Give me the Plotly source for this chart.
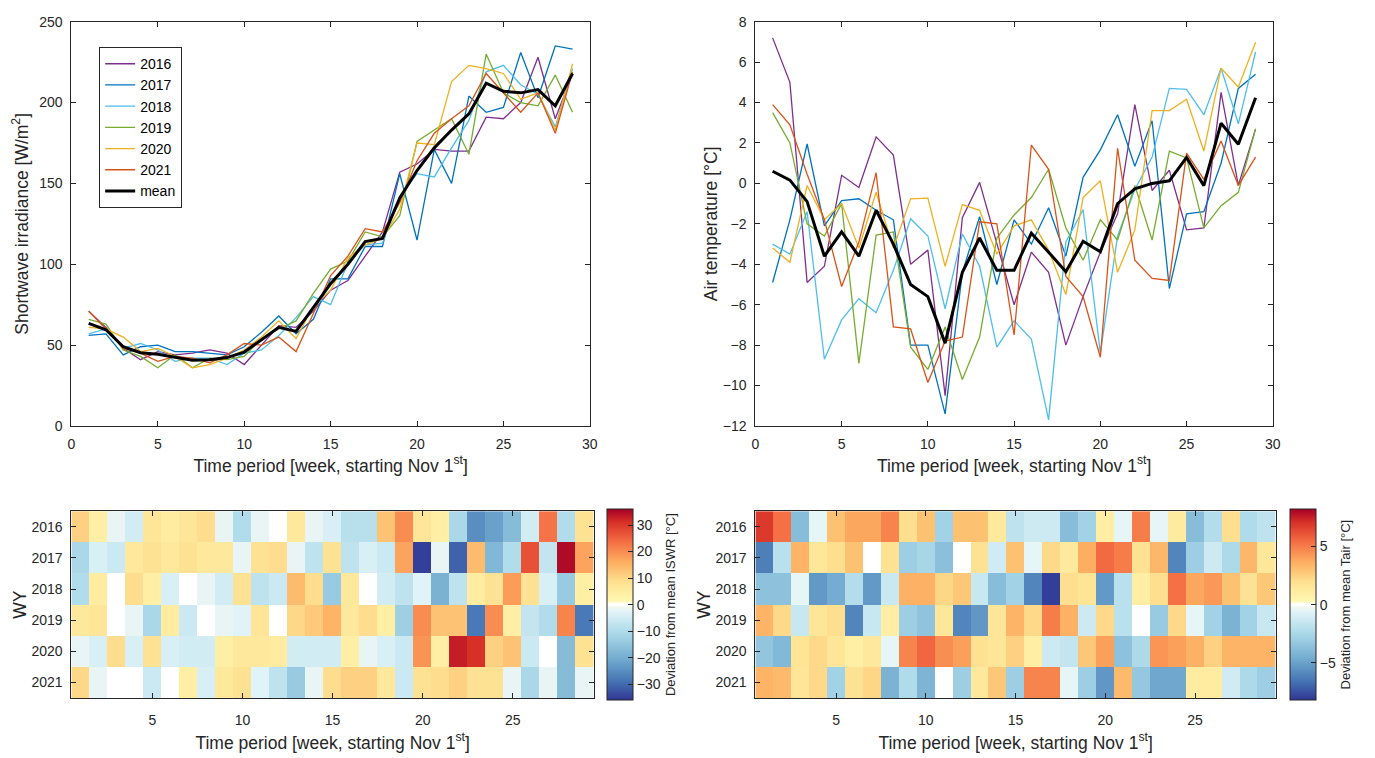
import plotly.graph_objects as go

weeks = list(range(1, 30))
years = [2016, 2017, 2018, 2019, 2020, 2021]
year_colors = ["#7E2F8E", "#0072BD", "#4DBEEE", "#77AC30", "#EDB120", "#D95319"]

# Shortwave irradiance [W/m2]
iswr_2016 = [71, 61, 48, 41, 46, 44, 45, 47, 45, 38, 50, 62, 61, 71, 84, 90, 105, 120, 157, 162, 171, 170, 170, 191, 190, 200, 228, 190, 218]
iswr_2017 = [56, 57, 44, 49, 50, 46, 46, 45, 44, 49, 58, 68, 57, 66, 91, 91, 111, 111, 156, 115, 171, 150, 204, 194, 197, 231, 203, 235, 233]
iswr_2018 = [57, 60, 48, 51, 47, 40, 42, 42, 38, 45, 47, 56, 67, 80, 75, 101, 112, 113, 142, 156, 154, 172, 189, 219, 223, 211, 205, 185, 221]
iswr_2019 = [66, 63, 47, 43, 36, 44, 36, 42, 41, 43, 54, 60, 65, 82, 97, 102, 120, 117, 130, 176, 183, 190, 168, 230, 206, 200, 198, 217, 194]
iswr_2020 = [61, 60, 55, 46, 48, 43, 36, 38, 42, 47, 55, 65, 54, 74, 84, 104, 112, 116, 134, 175, 174, 213, 223, 221, 218, 202, 206, 183, 224]
iswr_2021 = [71, 60, 48, 45, 40, 43, 42, 39, 44, 51, 50, 55, 46, 70, 93, 105, 122, 120, 138, 164, 181, 190, 198, 218, 206, 194, 206, 181, 219]
iswr_mean = [63.5, 59.5, 49, 45.3, 44.3, 42.3, 40.7, 41, 42.3, 45.7, 53.4, 61, 58.5, 73, 88, 100, 114, 116, 141, 158, 172, 183, 193, 212, 207, 206, 208, 198, 218]

# Air temperature [degC]
tair_2016 = [7.2, 5.0, -4.9, -4.1, 0.4, -0.2, 2.3, 1.4, -4.0, -3.3, -10.5, -1.7, 0.05, -3.0, -6.0, -3.4, -4.4, -8.0, -5.6, -3.4, -1.5, 3.9, -0.35, 0.65, -2.3, -2.2, 4.5, -0.1, 2.7]
tair_2017 = [-4.9, -1.8, 1.95, -2.1, -0.85, -0.76, -1.33, -1.8, -8.0, -8.0, -11.4, -4.4, -1.65, -5.0, -1.8, -3.0, -1.2, -3.6, 0.3, 1.66, 3.4, 0.85, 3.1, -5.2, -1.5, -1.4, 1.0, 4.7, 5.4]
tair_2018 = [-3.0, -3.5, -1.4, -8.7, -6.75, -5.7, -6.4, -4.3, -1.75, -2.6, -6.2, -2.5, -4.1, -8.1, -6.8, -7.7, -11.7, -2.9, -1.3, -8.4, -2.6, -0.3, 1.3, 4.7, 4.65, 3.4, 5.7, 2.95, 6.5]
tair_2019 = [3.5, 2.0, -2.0, -2.6, -1.0, -8.9, -2.56, -2.4, -8.1, -9.2, -7.1, -9.7, -7.6, -2.7, -1.56, -0.7, 0.7, -2.2, -3.8, -1.8, -2.8, -0.1, -2.8, 1.6, 1.26, -2.2, -1.1, -0.44, 2.7]
tair_2020 = [-3.2, -3.9, -0.1, -1.8, -1.0, -3.2, -0.44, -3.2, -0.76, -0.73, -4.1, -1.05, -1.33, -3.5, -2.1, -1.8, -3.3, -5.5, -0.7, 0.13, -4.4, -2.3, 3.6, 3.6, 4.16, 1.6, 5.7, 4.77, 6.98]
tair_2021 = [3.9, 2.9, 0.45, -1.8, -5.1, -2.9, 0.53, -7.1, -7.2, -9.85, -7.8, -7.6, -1.9, -2.0, -7.5, 1.9, 0.7, -4.6, -5.6, -8.6, 1.74, -3.8, -4.7, -4.8, 1.5, 0.2, 2.1, -0.1, 1.3]
tair_mean = [0.6, 0.16, -0.9, -3.6, -2.4, -3.6, -1.33, -3.0, -5.0, -5.6, -7.9, -4.4, -2.7, -4.3, -4.3, -2.46, -3.4, -4.37, -2.86, -3.38, -1.0, -0.27, 0.0, 0.13, 1.29, -0.11, 2.98, 1.94, 4.24]

# Deviation from mean ISWR (heatmap rows, WY 2016..2021)
dev_iswr_2016 = [11, 4, -2, -5, 7, 5, 7, 9, -2, -10, -2, 0, 6, -2, -4, -9, -9, 13, 20, 7, 4, -11, -25, -22, -17, -5, 23, -10, 8]
dev_iswr_2017 = [-11, -4, -6, 6, 8, 6, 8, 6, 6, -2, 8, 9, -2, -8, 8, -8, -4, -6, 17, -35, -2, -31, 14, -18, -10, 27, -7, 35, 17]
dev_iswr_2018 = [-10, 5, 0, 9, 4, -4, 0, -2, -5, 8, -8, -6, 14, 9, -14, 6, 0, -5, -8, -3, -19, -8, 5, 8, 18, 8, -4, -14, 4]
dev_iswr_2019 = [6, 7, 0, -2, -11, 5, -6, 0, -2, -3, 7, 0, 10, 12, 15, 6, 9, 4, -13, 20, 13, 13, -28, 20, 4, -7, -10, 21, -28]
dev_iswr_2020 = [-2, -4, 9, -4, 8, -4, -5, -5, 4, 6, 6, 5, -5, -5, -5, 4, -2, -4, -6, 19, 4, 33, 31, 11, 13, -6, 0, -17, 8]
dev_iswr_2021 = [10, -2, 0, 0, -6, 0, 4, -4, 6, 8, -3, -8, -14, -2, 9, 11, 11, 6, -6, 8, 9, 11, 8, 8, -2, -11, -2, -17, -2]

# Deviation from mean Tair (heatmap rows, WY 2016..2021)
dev_tair_2016 = [6.8, 5.3, -3.8, -0.5, 3.0, 3.8, 3.8, 4.8, 2.0, 3.0, -2.8, 3.0, 3.0, 1.3, -1.8, -1.3, -1.3, -3.8, -2.8, 1.0, -0.5, 5.0, -0.5, 1.2, -3.8, -2.2, 2.0, -2.3, -1.8]
dev_tair_2017 = [-6.2, -2.0, 3.4, 1.5, 2.0, 3.0, 0.0, 1.8, -3.0, -2.6, -3.7, 0.0, 1.8, -1.2, 3.0, -0.5, 2.2, 1.3, 3.6, 5.5, 5.0, 1.8, 3.3, -6.0, -3.0, -1.3, -2.4, 3.3, 1.5]
dev_tair_2018 = [-3.6, -3.6, -0.5, -5.3, -4.6, -2.2, -5.3, -1.4, 3.5, 3.5, 2.3, 2.8, -1.5, -3.8, -2.8, -6.0, -8.0, 2.0, 1.7, -5.3, -2.0, 1.0, 2.0, 5.3, 3.8, 4.2, 3.0, 1.8, 2.8]
dev_tair_2019 = [3.4, 2.2, -1.5, 1.6, 2.0, -6.0, -1.5, 1.0, -3.0, -3.5, 1.5, -6.0, -5.4, 1.6, 3.4, 2.2, 5.0, 3.5, -1.3, 2.2, -2.0, 0.0, -3.2, 2.2, -0.5, -2.8, -4.3, -2.8, -1.5]
dev_tair_2020 = [-3.4, -4.0, 1.7, 2.2, 1.6, 0.9, 1.4, -0.5, 4.8, 5.6, 4.5, 4.0, 1.9, 1.6, 2.5, 1.0, -1.3, -1.6, 2.8, 4.0, -3.6, -2.4, 4.3, 4.0, 3.5, 2.5, 3.4, 3.4, 3.4]
dev_tair_2021 = [3.4, 3.2, 1.6, 2.2, -2.8, 1.8, 2.3, -4.3, -2.3, -4.2, 0.0, -3.0, 1.4, 2.8, -3.0, 4.8, 4.8, -0.5, -3.0, -5.4, 3.2, -3.3, -4.8, -4.8, 1.1, 1.1, -1.2, -2.4, -3.0]

iswr_series = [iswr_2016, iswr_2017, iswr_2018, iswr_2019, iswr_2020, iswr_2021]
tair_series = [tair_2016, tair_2017, tair_2018, tair_2019, tair_2020, tair_2021]
dev_iswr = [dev_iswr_2016, dev_iswr_2017, dev_iswr_2018, dev_iswr_2019, dev_iswr_2020, dev_iswr_2021]
dev_tair = [dev_tair_2016, dev_tair_2017, dev_tair_2018, dev_tair_2019, dev_tair_2020, dev_tair_2021]

FONT = "Liberation Sans, Arial, sans-serif"
AX = "#262626"

colorscale = [
    [0.0, "#313695"], [0.1, "#4575b4"], [0.22, "#74add1"], [0.35, "#abd9e9"],
    [0.46, "#e0f3f8"], [0.485, "#f0f8f0"], [0.5, "#ffffff"], [0.52, "#fff7b0"],
    [0.62, "#fee090"], [0.72, "#fdae61"], [0.83, "#f46d43"], [0.93, "#d73027"],
    [1.0, "#a50026"],
]

fig = go.Figure()

for yr, col, s in zip(years, year_colors, iswr_series):
    fig.add_trace(go.Scatter(x=weeks, y=s, mode="lines", name=str(yr),
                             line=dict(color=col, width=1.3), xaxis="x", yaxis="y"))
fig.add_trace(go.Scatter(x=weeks, y=iswr_mean, mode="lines", name="mean",
                         line=dict(color="black", width=3), xaxis="x", yaxis="y"))

for yr, col, s in zip(years, year_colors, tair_series):
    fig.add_trace(go.Scatter(x=weeks, y=s, mode="lines", name=str(yr), showlegend=False,
                             line=dict(color=col, width=1.3), xaxis="x2", yaxis="y2"))
fig.add_trace(go.Scatter(x=weeks, y=tair_mean, mode="lines", name="mean", showlegend=False,
                         line=dict(color="black", width=3), xaxis="x2", yaxis="y2"))

fig.add_trace(go.Heatmap(x=weeks, y=years, z=dev_iswr, coloraxis="coloraxis",
                         xaxis="x3", yaxis="y3", showlegend=False))
fig.add_trace(go.Heatmap(x=weeks, y=years, z=dev_tair, coloraxis="coloraxis2",
                         xaxis="x4", yaxis="y4", showlegend=False))

W, H = 1375, 758

def axis_common(tls=4):
    return dict(showline=True, linecolor=AX, linewidth=1, mirror="ticks",
                ticks="inside", ticklen=5, tickcolor=AX, tickwidth=1,
                showgrid=False, zeroline=False, ticklabelstandoff=tls,
                tickfont=dict(family=FONT, size=14, color=AX),
                title_font=dict(family=FONT, size=17.5, color=AX))

xt = "Time period [week, starting Nov 1<sup>st</sup>]"

fig.update_layout(
    width=W, height=H,
    margin=dict(l=0, r=0, t=0, b=0),
    paper_bgcolor="white", plot_bgcolor="white",
    font=dict(family=FONT, color=AX),
    xaxis=dict(domain=[68 / W, 591 / W], anchor="y", range=[0, 30], dtick=5, tick0=0,
               title=dict(text=xt, standoff=8), **axis_common(5)),
    yaxis=dict(domain=[1 - 427 / H, 1 - 14 / H], anchor="x", range=[0, 250], dtick=50,
               title=dict(text="Shortwave irradiance [W/m<sup>2</sup>]", standoff=6), **axis_common(5)),
    xaxis2=dict(domain=[758 / W, 1280 / W], anchor="y2", range=[0, 30], dtick=5, tick0=0,
                title=dict(text=xt, standoff=8), **axis_common(5)),
    yaxis2=dict(domain=[1 - 427 / H, 1 - 14 / H], anchor="x2", range=[-12, 8], dtick=2,
                title=dict(text="Air temperature [°C]", standoff=0), **axis_common(5)),
    xaxis3=dict(domain=[68 / W, 595 / W], anchor="y3", range=[0.5, 29.5],
                tickvals=[5, 10, 15, 20, 25],
                title=dict(text=xt, standoff=9), **axis_common(9)),
    yaxis3=dict(domain=[1 - 705 / H, 1 - 514 / H], anchor="x3", range=[2021.5, 2015.5],
                tickvals=years, title=dict(text="WY", standoff=0), **axis_common(5)),
    xaxis4=dict(domain=[758 / W, 1283 / W], anchor="y4", range=[0.5, 29.5],
                tickvals=[5, 10, 15, 20, 25],
                title=dict(text=xt, standoff=9), **axis_common(9)),
    yaxis4=dict(domain=[1 - 705 / H, 1 - 514 / H], anchor="x4", range=[2021.5, 2015.5],
                tickvals=years, title=dict(text="WY", standoff=0), **axis_common(5)),
    coloraxis=dict(colorscale=colorscale, cmin=-36, cmax=36,
                   colorbar=dict(x=608 / W, xanchor="left", y=1 - 609.5 / H, yanchor="middle",
                                 len=191, lenmode="pixels", thickness=26, thicknessmode="pixels",
                                 xpad=0, ypad=0, outlinewidth=1, outlinecolor=AX,
                                 ticks="inside", ticklen=5, tickcolor=AX,
                                 tickvals=[-30, -20, -10, 0, 10, 20, 30],
                                 tickfont=dict(family=FONT, size=14, color=AX),
                                 title=dict(text="Deviation from mean ISWR [°C]", side="right",
                                            font=dict(family=FONT, size=13, color=AX)))),
    coloraxis2=dict(colorscale=colorscale, cmin=-8.2, cmax=8.2,
                    colorbar=dict(x=1297 / W, xanchor="left", y=1 - 609.5 / H, yanchor="middle",
                                  len=191, lenmode="pixels", thickness=26, thicknessmode="pixels",
                                  xpad=0, ypad=0, outlinewidth=1, outlinecolor=AX,
                                  ticks="inside", ticklen=5, tickcolor=AX,
                                  tickvals=[-5, 0, 5],
                                  tickfont=dict(family=FONT, size=14, color=AX),
                                  title=dict(text="Deviation from mean Tair [°C]", side="right",
                                             font=dict(family=FONT, size=13, color=AX)))),
    legend=dict(x=96 / W, y=1 - 40 / H, xanchor="left", yanchor="top",
                bgcolor="white", bordercolor=AX, borderwidth=1,
                font=dict(family=FONT, size=14, color="black"), tracegroupgap=0),
)

fig.write_html("out.html")
